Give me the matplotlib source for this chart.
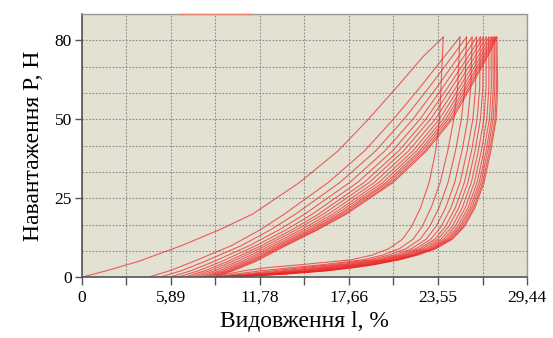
import matplotlib
matplotlib.use('Agg')
import matplotlib.pyplot as plt

load_up = [0, 2, 5, 10, 15, 20, 30, 40, 50, 60, 70, 76]
load_down = [76, 60, 50, 40, 30, 22, 16, 12, 9, 7, 5.5, 4, 3, 2, 1, 0.4, 0]

# strain (%) of each loading branch, one row per cycle
strain_loading = [
    [0.00, 1.60, 3.75, 6.60, 9.10, 11.30, 14.40, 16.95, 18.95, 20.80, 22.60, 23.90],
    [4.40, 5.80, 7.40, 9.90, 11.80, 13.40, 16.30, 18.70, 20.60, 22.35, 24.00, 25.00],
    [5.17, 6.56, 8.14, 10.55, 12.48, 14.14, 17.07, 19.44, 21.30, 22.95, 24.51, 25.44],
    [5.82, 7.19, 8.75, 11.09, 13.05, 14.75, 17.72, 20.05, 21.89, 23.46, 24.94, 25.81],
    [6.34, 7.69, 9.25, 11.52, 13.51, 15.25, 18.24, 20.55, 22.36, 23.86, 25.28, 26.10],
    [6.77, 8.11, 9.66, 11.88, 13.89, 15.66, 18.67, 20.96, 22.75, 24.19, 25.57, 26.35],
    [7.11, 8.45, 9.98, 12.17, 14.19, 15.98, 19.01, 21.28, 23.06, 24.46, 25.80, 26.54],
    [7.45, 8.78, 10.31, 12.46, 14.50, 16.31, 19.35, 21.61, 23.37, 24.73, 26.02, 26.74],
    [7.75, 9.08, 10.60, 12.71, 14.76, 16.60, 19.65, 21.90, 23.64, 24.96, 26.22, 26.91],
    [8.01, 9.33, 10.84, 12.92, 14.99, 16.84, 19.91, 22.14, 23.88, 25.16, 26.39, 27.06],
    [8.23, 9.54, 11.05, 13.10, 15.18, 17.05, 20.13, 22.35, 24.07, 25.33, 26.54, 27.18],
    [8.40, 9.71, 11.21, 13.25, 15.33, 17.21, 20.30, 22.51, 24.23, 25.47, 26.65, 27.28],
    [8.57, 9.87, 11.38, 13.39, 15.49, 17.38, 20.47, 22.68, 24.38, 25.60, 26.76, 27.38],
    [8.70, 10.00, 11.50, 13.50, 15.60, 17.50, 20.60, 22.80, 24.50, 25.70, 26.85, 27.45],
]

# strain (%) of each unloading branch, one row per cycle
strain_unloading = [
    [23.90, 23.75, 23.65, 23.40, 22.97, 22.40, 21.80, 21.20, 20.30, 19.20, 17.80, 14.60, 12.20, 10.70, 9.60, 9.10, 8.70],
    [25.00, 24.85, 24.60, 24.20, 23.70, 23.10, 22.50, 21.90, 21.00, 19.90, 18.60, 16.00, 13.80, 11.80, 10.20, 9.30, 8.80],
    [25.44, 25.33, 25.10, 24.71, 24.22, 23.62, 23.00, 22.37, 21.43, 20.31, 19.03, 16.61, 14.56, 12.59, 10.79, 9.64, 8.87],
    [25.81, 25.72, 25.52, 25.14, 24.66, 24.06, 23.42, 22.76, 21.79, 20.66, 19.39, 17.12, 15.19, 13.25, 11.29, 9.93, 8.93],
    [26.10, 26.04, 25.86, 25.48, 25.01, 24.41, 23.76, 23.07, 22.08, 20.94, 19.68, 17.53, 15.69, 13.78, 11.69, 10.16, 8.98],
    [26.35, 26.31, 26.14, 25.77, 25.30, 24.70, 24.04, 23.33, 22.32, 21.17, 19.92, 17.87, 16.11, 14.22, 12.02, 10.35, 9.02],
    [26.54, 26.52, 26.36, 26.00, 25.53, 24.93, 24.26, 23.54, 22.51, 21.35, 20.11, 18.14, 16.45, 14.57, 12.28, 10.50, 9.05],
    [26.74, 26.73, 26.59, 26.22, 25.76, 25.16, 24.49, 23.75, 22.70, 21.53, 20.30, 18.41, 16.78, 14.92, 12.54, 10.65, 9.08],
    [26.91, 26.92, 26.78, 26.42, 25.96, 25.36, 24.68, 23.93, 22.87, 21.69, 20.47, 18.65, 17.08, 15.23, 12.77, 10.78, 9.11],
    [27.06, 27.08, 26.95, 26.59, 26.14, 25.54, 24.85, 24.08, 23.02, 21.83, 20.62, 18.86, 17.33, 15.50, 12.97, 10.90, 9.14],
    [27.18, 27.21, 27.09, 26.74, 26.28, 25.68, 24.99, 24.21, 23.14, 21.95, 20.74, 19.03, 17.54, 15.72, 13.14, 10.99, 9.16],
    [27.28, 27.31, 27.20, 26.85, 26.40, 25.80, 25.10, 24.32, 23.23, 22.04, 20.83, 19.16, 17.71, 15.89, 13.27, 11.07, 9.17],
    [27.38, 27.42, 27.32, 26.96, 26.51, 25.91, 25.22, 24.42, 23.33, 22.13, 20.93, 19.30, 17.87, 16.07, 13.40, 11.14, 9.19],
    [27.45, 27.50, 27.40, 27.05, 26.60, 26.00, 25.30, 24.50, 23.40, 22.20, 21.00, 19.40, 18.00, 16.20, 13.50, 11.20, 9.20],
]

# faint trace lying on the top border
top_trace_x = [6.5, 11.2]
top_trace_y = [83.33, 83.33]

x_ticks = [0, 5.89, 11.78, 17.66, 23.55, 29.44]
x_ticklabels = ['0', '5,89', '11,78', '17,66', '23,55', '29,44']
x_minor = [2.94, 8.83, 14.72, 20.61, 26.50]
y_ticks = [0, 25, 50, 75]
y_ticklabels = ['0', '25', '50', '80']
y_grid = [8.33, 16.67, 33.33, 41.67, 58.33, 66.67, 83.33]

plt.rcParams['font.family'] = ['Liberation Serif', 'DejaVu Serif']

fig = plt.figure(figsize=(5.53, 3.38), dpi=100)
ax = fig.add_axes([0.148, 0.180, 0.805, 0.7786])
ax.set_facecolor('#E3E1D2')
ax.set_axisbelow(True)

red = '#EE2424'
for row in strain_loading:
    ax.plot(row, load_up, color=red, lw=0.8, alpha=0.7)
for row in strain_unloading:
    ax.plot(row, load_down, color=red, lw=0.8, alpha=0.7)
ax.plot(top_trace_x, top_trace_y, color='#EE8070', lw=1.0, clip_on=False, zorder=5)

ax.set_xlim(0, 29.44)
ax.set_ylim(0, 83.33)
ax.set_xticks(x_ticks)
ax.set_xticklabels(x_ticklabels, fontsize=12.5)
ax.set_xticks(x_minor, minor=True)
ax.set_yticks(y_ticks)
ax.set_yticklabels(y_ticklabels, fontsize=12.5)
ax.set_yticks(y_grid, minor=True)

ax.tick_params(axis='x', which='both', direction='out', length=6, width=1, color='#555555', pad=3)
ax.tick_params(axis='y', which='major', direction='out', length=5, width=1, color='#555555', pad=2)
ax.tick_params(axis='y', which='minor', length=0)
ax.grid(True, which='both', linestyle=(0, (1.5, 1.5)), color='#8a8a8a', lw=0.8)

for s in ['left', 'bottom']:
    ax.spines[s].set_color('#555555')
    ax.spines[s].set_linewidth(1.2)
for s in ['top', 'right']:
    ax.spines[s].set_color('#999999')
    ax.spines[s].set_linestyle((0, (1.5, 1)))
    ax.spines[s].set_linewidth(1.0)

ax.set_xlabel('Видовження l, %', fontsize=17, labelpad=4)
ax.set_ylabel('Навантаження P, Н', fontsize=17, labelpad=8)

fig.savefig('out.png', dpi=100, facecolor='white')
